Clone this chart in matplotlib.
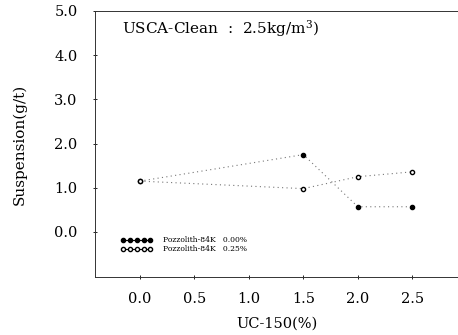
import matplotlib
matplotlib.use("Agg")
import matplotlib.pyplot as plt

# Data
x_values = [0.0, 1.5, 2.0, 2.5]
susp_000 = [1.15, 1.75, 0.57, 0.57]   # Pozzolith-84K 0.00%
susp_025 = [1.15, 0.98, 1.25, 1.36]   # Pozzolith-84K 0.25%
series_labels = ["Pozzolith-84K   0.00%", "Pozzolith-84K   0.25%"]
x_ticks = [0.0, 0.5, 1.0, 1.5, 2.0, 2.5]
x_ticklabels = ["0.0", "0.5", "1.0", "1.5", "2.0", "2.5"]
y_ticks = [0.0, 1.0, 2.0, 3.0, 4.0, 5.0]
y_ticklabels = ["0.0", "1.0", "2.0", "3.0", "4.0", "5.0"]
annotation = "USCA-Clean  :  2.5kg/m$^{3}$)"

plt.rcParams['font.family'] = ['DejaVu Serif']
plt.rcParams['mathtext.fontset'] = 'dejavuserif'

fig = plt.figure(figsize=(4.58, 3.35), dpi=100)
ax = fig.add_axes([95/458, 1 - 277/335, 1 - 95/458, (277 - 11)/335])

ax.plot(x_values, susp_000, linestyle=(0, (1, 3)), color='#777777', linewidth=0.8,
        marker='o', markersize=3, markerfacecolor='black', markeredgecolor='black',
        label=series_labels[0])
ax.plot(x_values, susp_025, linestyle=(0, (1, 3)), color='#777777', linewidth=0.8,
        marker='o', markersize=3, markerfacecolor='white', markeredgecolor='black',
        label=series_labels[1])

ax.set_xlim(-0.413, 2.92)
ax.set_ylim(-1.02, 5.0)
ax.set_xticks(x_ticks)
ax.set_xticklabels(x_ticklabels)
ax.set_yticks(y_ticks)
ax.set_yticklabels(y_ticklabels)
ax.tick_params(axis='both', labelsize=10.5, direction='inout', length=3, width=0.6)
ax.tick_params(axis='y', pad=11)
ax.tick_params(axis='x', pad=9)

for side in ['left', 'bottom', 'top']:
    ax.spines[side].set_linewidth(0.7)
    ax.spines[side].set_color('#333333')
ax.spines['right'].set_visible(False)

ax.set_ylabel("Suspension(g/t)", fontsize=11, labelpad=20)
ax.set_xlabel("UC-150(%)", fontsize=10.5, labelpad=8)

ax.text(0.075, 0.935, annotation, transform=ax.transAxes, fontsize=11,
        ha='left', va='center')

leg = ax.legend(loc='lower left', bbox_to_anchor=(0.06, 0.075), frameon=False,
                fontsize=5.5, numpoints=5, handlelength=4.2, labelspacing=0.1,
                handletextpad=1.4, borderpad=0)
for h in leg.get_lines():
    h.set_linestyle('-')
    h.set_color('black')
    h.set_markersize(3)

fig.savefig("out.png", dpi=100)
